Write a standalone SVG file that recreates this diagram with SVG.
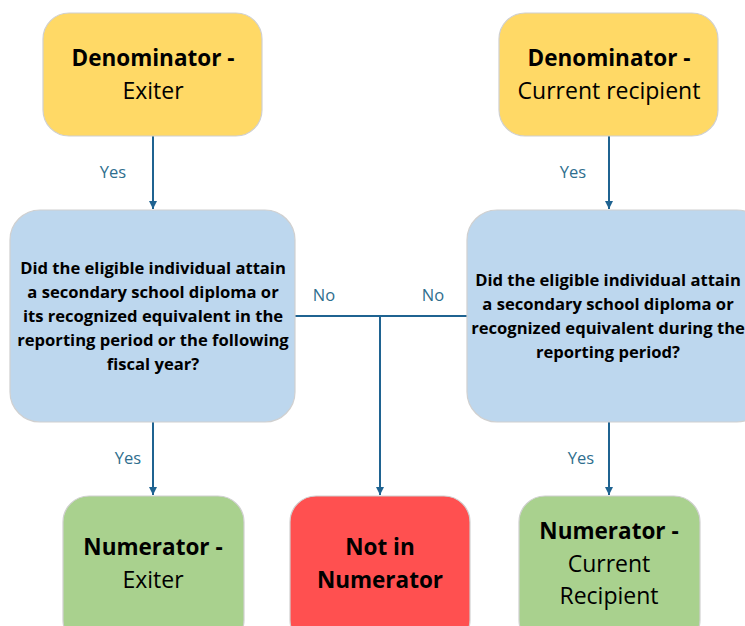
<svg xmlns="http://www.w3.org/2000/svg" width="745" height="626" viewBox="0 0 745 626">
<style>
.box{stroke:#D0D0D0;stroke-width:1.2}
.yel{fill:#FFD966}
.blu{fill:#BDD7EE}
.grn{fill:#A9D18E}
.red{fill:#FF5050}
.t{font-family:"Open Sans","DejaVu Sans",sans-serif;fill:#000;text-anchor:middle}
.big{font-size:23px}
.b{font-weight:bold;font-size:22.5px}
.q{font-size:16.6px;font-weight:bold}
.lbl{font-family:"Open Sans","DejaVu Sans",sans-serif;font-size:16.5px;fill:#2E6E8E;text-anchor:middle}
.ln{stroke:#1F6391;stroke-width:2;fill:none}
</style>
<defs>
<marker id="ah" viewBox="0 0 10 10" refX="10" refY="5" markerWidth="8" markerHeight="8" markerUnits="userSpaceOnUse" orient="auto">
<path d="M0,0 L10,5 L0,10 z" fill="#1F6391"/>
</marker>
</defs>
<g id="connectors">
<line class="ln" x1="153" y1="136" x2="153" y2="209" marker-end="url(#ah)"/>
<line class="ln" x1="609" y1="136" x2="609" y2="209" marker-end="url(#ah)"/>
<line class="ln" x1="153" y1="422" x2="153" y2="495" marker-end="url(#ah)"/>
<line class="ln" x1="609" y1="422" x2="609" y2="495" marker-end="url(#ah)"/>
<line class="ln" x1="295" y1="316" x2="467" y2="316"/>
<line class="ln" x1="380" y1="316" x2="380" y2="495" marker-end="url(#ah)"/>
<text class="lbl" x="113" y="178">Yes</text>
<text class="lbl" x="573" y="178">Yes</text>
<text class="lbl" x="128" y="464">Yes</text>
<text class="lbl" x="581" y="464">Yes</text>
<text class="lbl" x="324" y="301">No</text>
<text class="lbl" x="433" y="301">No</text>
</g>
<g id="den-exiter">
<rect class="box yel" x="43" y="13" width="219" height="123" rx="26"/>
<text class="t b" x="153" y="66">Denominator -</text>
<text class="t big" x="153" y="99">Exiter</text>
</g>
<g id="den-current">
<rect class="box yel" x="499" y="13" width="219" height="123" rx="26"/>
<text class="t b" x="609" y="66">Denominator -</text>
<text class="t big" x="609" y="99">Current recipient</text>
</g>
<g id="q-exiter">
<rect class="box blu" x="10" y="210" width="285" height="212" rx="30"/>
<text class="t q" x="153" y="274">Did the eligible individual attain</text>
<text class="t q" x="153" y="298">a secondary school diploma or</text>
<text class="t q" x="153" y="322">its recognized equivalent in the</text>
<text class="t q" x="153" y="346">reporting period or the following</text>
<text class="t q" x="153" y="370">fiscal year?</text>
</g>
<g id="q-current">
<rect class="box blu" x="467" y="210" width="300" height="212" rx="30"/>
<text class="t q" x="608" y="286">Did the eligible individual attain</text>
<text class="t q" x="608" y="310">a secondary school diploma or</text>
<text class="t q" x="608" y="334">recognized equivalent during the</text>
<text class="t q" x="608" y="358">reporting period?</text>
</g>
<g id="num-exiter">
<rect class="box grn" x="63" y="496" width="181" height="150" rx="26"/>
<text class="t b" x="153" y="555">Numerator -</text>
<text class="t big" x="153" y="588">Exiter</text>
</g>
<g id="not-in">
<rect class="box red" x="290" y="496" width="180" height="150" rx="26"/>
<text class="t b" x="380" y="555">Not in</text>
<text class="t b" x="380" y="588">Numerator</text>
</g>
<g id="num-current">
<rect class="box grn" x="519" y="496" width="181" height="150" rx="26"/>
<text class="t b" x="609" y="539">Numerator -</text>
<text class="t big" x="609" y="572">Current</text>
<text class="t big" x="609" y="604">Recipient</text>
</g>
</svg>
